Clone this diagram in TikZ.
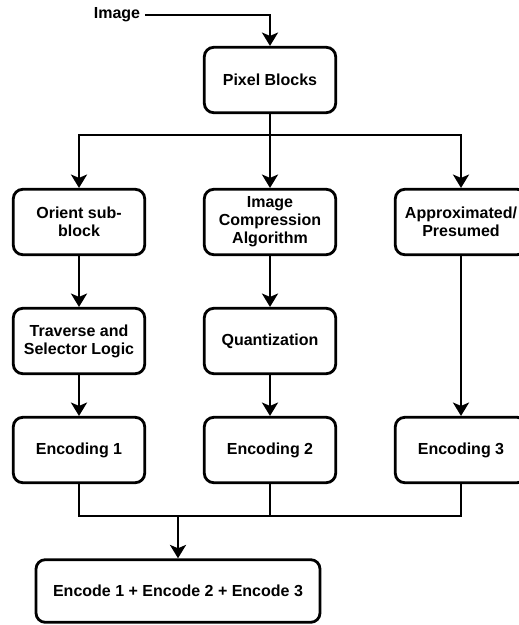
\documentclass[tikz,border=0pt]{standalone}
\usepackage{fontspec}
\setmainfont{Liberation Sans}
\usepackage{tikz}
\usetikzlibrary{arrows.meta}

\begin{document}
\begin{tikzpicture}[x=0.75pt,y=-0.75pt,
  blk/.style={draw,line width=2.1pt,rounded corners=7pt,minimum width=98.5pt,minimum height=49pt,align=center,font=\bfseries\fontsize{12}{13.5}\selectfont},
  lbl/.style={font=\bfseries\fontsize{12}{13.5}\selectfont},
  wire/.style={line width=2.1pt},
  arr/.style={wire,-{Stealth[length=10pt,width=12pt,inset=2.5pt]}}]
\useasboundingbox (0,0) rectangle (518,625);
\node[lbl] (img) at (117,15) {Image};
\node[blk] (pix) at (270,80) {Pixel Blocks};
\node[blk] (ori) at (79,222) {Orient sub-\\block};
\node[blk] (ica) at (270,222) {Image\\Compression\\Algorithm};
\node[blk] (app) at (461,222) {Approximated/\\Presumed};
\node[blk] (trav) at (79,341) {Traverse and\\Selector Logic};
\node[blk] (qua) at (270,341) {Quantization};
\node[blk] (enc1) at (79,450) {Encoding 1};
\node[blk] (enc2) at (270,450) {Encoding 2};
\node[blk] (enc3) at (461,450) {Encoding 3};
\node[blk,minimum width=213pt,minimum height=47pt] (sum) at (178,591) {Encode 1 + Encode 2 + Encode 3};
\coordinate (split) at (270,135);
\coordinate (join) at (178,516);
\draw[arr] (img.east) -| (pix.north);
\draw[wire] (pix.south) -- (split);
\foreach \n in {ori,ica,app}
  \draw[arr] (split) -| (\n.north);
\draw[arr] (ori) -- (trav);
\draw[arr] (ica) -- (qua);
\draw[arr] (trav) -- (enc1);
\draw[arr] (qua) -- (enc2);
\draw[arr] (app) -- (enc3);
\foreach \n in {enc1,enc2,enc3}
  \draw[wire] (\n.south) |- (join);
\draw[arr] (join) -- (sum.north);
\end{tikzpicture}
\end{document}
